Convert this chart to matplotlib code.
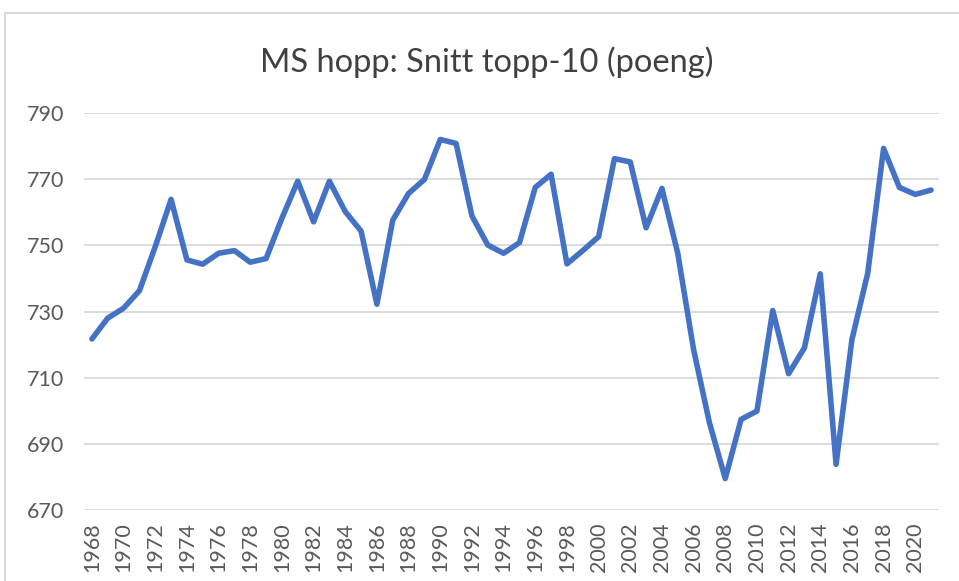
import matplotlib.pyplot as plt
from matplotlib.lines import Line2D

# MS hopp: average of top-10 scores per season
years = list(range(1968, 2022))
points = [721.7, 728.0, 731.0, 736.3, 749.6, 763.9, 745.6, 744.3, 747.6, 748.4,
          744.9, 746.0, 758.2, 769.4, 757.1, 769.4, 760.2, 754.3, 732.2, 757.6,
          765.7, 769.9, 782.0, 780.8, 758.9, 750.1, 747.6, 750.8, 767.5, 771.5,
          744.4, 748.4, 752.6, 776.2, 775.2, 755.3, 767.2, 747.6, 718.5, 696.4,
          679.5, 697.4, 699.9, 730.3, 711.2, 719.0, 741.4, 683.8, 721.5, 741.6,
          779.3, 767.5, 765.4, 766.7]
yticks = [670, 690, 710, 730, 750, 770, 790]
title = 'MS hopp: Snitt topp-10 (poeng)'

plt.rcParams['font.family'] = ['Lato', 'DejaVu Sans']

W, H = 959, 581
fig = plt.figure(figsize=(W / 100, H / 100), dpi=100)
ax = fig.add_axes([84 / W, 1 - 510 / H, (939 - 84) / W, (510 - 113) / H])

ax.plot(years, points, color='#4472C4', linewidth=4.0, solid_joinstyle='round',
        solid_capstyle='round', clip_on=False, zorder=3)

ax.set_xlim(years[0] - 0.5, years[-1] + 0.5)
ax.set_ylim(yticks[0], yticks[-1])
ax.set_yticks(yticks)
ax.set_xticks(years[::2])
ax.set_xticklabels([str(y) for y in years[::2]], rotation=90)
ax.grid(axis='y', color='#D9D9D9', linewidth=1.3)
ax.set_axisbelow(True)
for s in ax.spines.values():
    s.set_visible(False)
ax.tick_params(axis='both', length=0, labelsize=15.5, colors='#595959')
ax.tick_params(axis='y', pad=14)
ax.tick_params(axis='x', pad=9)

fig.text(487 / W, 1 - 62 / H, title, ha='center', va='center',
         fontsize=23.5, color='#404040')

# outer chart border (light gray)
fig.add_artist(Line2D([5 / W, 5 / W], [0, 1 - 13 / H], color='#D9D9D9', linewidth=1.5))
fig.add_artist(Line2D([5 / W, 1], [1 - 13 / H, 1 - 13 / H], color='#D9D9D9', linewidth=1.5))

fig.savefig('out.png', dpi=100)
